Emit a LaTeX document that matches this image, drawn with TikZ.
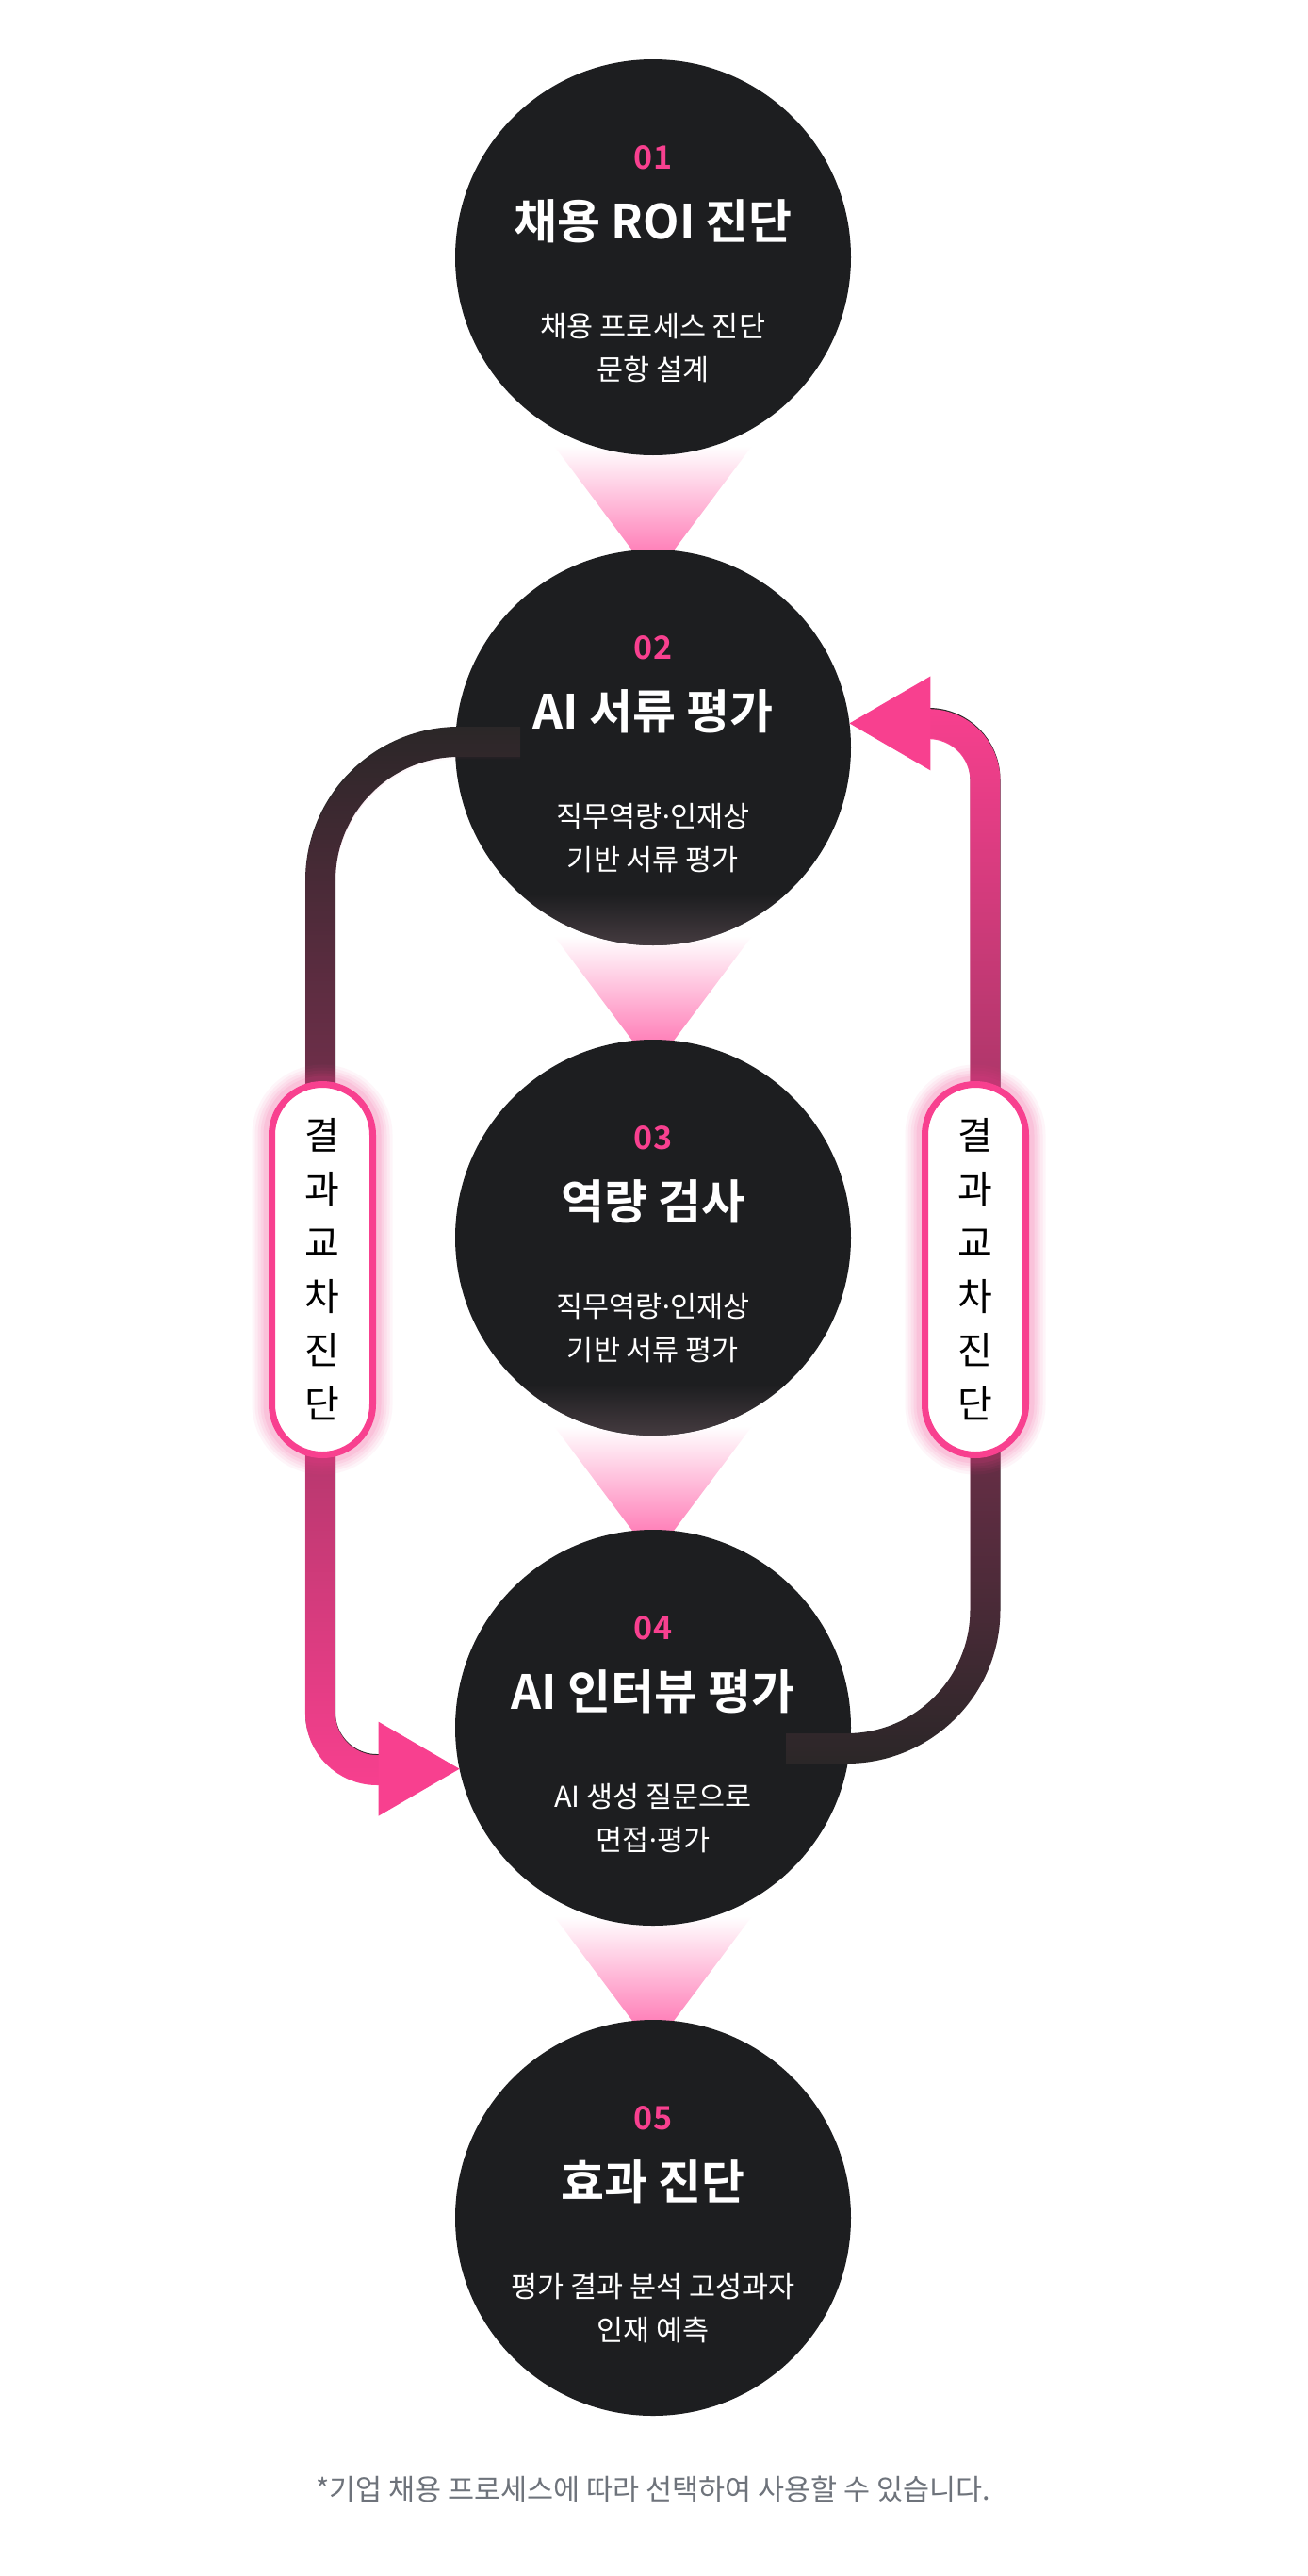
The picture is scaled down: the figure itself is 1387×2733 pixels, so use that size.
\documentclass[tikz,border=0pt]{standalone}
\usepackage{fontspec}
\setmainfont{Noto Sans CJK KR}[BoldFont={Noto Sans CJK KR Bold}]
\newfontfamily\dotfont{Noto Sans}
\usepackage{xcolor}
\definecolor{cPink}{HTML}{F8408F}
\definecolor{cFunnel}{HTML}{FF7DB7}
\definecolor{cCircle}{HTML}{1D1E20}
\definecolor{cCircleLow}{HTML}{463C41}
\definecolor{cTrack}{HTML}{2B2728}
\definecolor{cNote}{HTML}{6E737B}
\usepackage{tikz}
\usetikzlibrary{positioning, calc, fadings, backgrounds}

\tikzfading[name=fadeDown, top color=transparent!100, bottom color=transparent!0]
\tikzfading[name=fadeUp, top color=transparent!0, bottom color=transparent!100]
\newcommand{\mdot}{{\dotfont ·}}

\begin{document}
\begin{tikzpicture}[
    x=1pt, y=1pt,
    stage/.style={circle, fill=cCircle, minimum size=420pt, inner sep=0pt, outer sep=0pt},
    numtxt/.style={text=cPink, font=\fontsize{34}{34}\selectfont\bfseries},
    titletxt/.style={text=white, font=\fontsize{50}{50}\selectfont\bfseries},
    subtxt/.style={text=white, align=center, font=\fontsize{30.5}{46}\selectfont},
    funnel/.style={top color=white, bottom color=cFunnel},
    glowband/.style={fill=cCircleLow, path fading=fadeDown},
    track/.style={line width=32pt, color=cTrack},
    trackpink/.style={line width=32pt, color=cPink},
    pill/.style={draw=cPink, line width=7pt, fill=white, rounded corners=53.5pt,
                 minimum width=107pt, minimum height=393pt, inner sep=0pt,
                 align=center, font=\fontsize{40}{57}\selectfont,
                 preaction={draw=cPink, opacity=0.05, line width=42pt},
                 preaction={draw=cPink, opacity=0.06, line width=36pt},
                 preaction={draw=cPink, opacity=0.07, line width=30pt},
                 preaction={draw=cPink, opacity=0.08, line width=24pt},
                 preaction={draw=cPink, opacity=0.10, line width=18pt}},
    note/.style={text=cNote, font=\fontsize{30.5}{30.5}\selectfont},
    node distance=100pt
]
\useasboundingbox (0,0) rectangle (1387,-2733);

% stages
\node[stage] (c1) at (693,-273) {};
\node[stage, below=of c1] (c2) {};
\node[stage, below=of c2] (c3) {};
\node[stage, below=of c3] (c4) {};
\node[stage, below=of c4] (c5) {};

% lighter bottom of stages 2 and 3
\begin{scope}
\clip (c2.center) circle (210pt);
\fill[glowband] ($(c2.south)+(-210,55)$) rectangle ($(c2.south)+(210,0)$);
\end{scope}
\begin{scope}
\clip (c3.center) circle (210pt);
\fill[glowband] ($(c3.south)+(-210,55)$) rectangle ($(c3.south)+(210,0)$);
\end{scope}

% funnels between the stages
\begin{scope}[on background layer]
\fill[white] (0,0) rectangle (1387,-2733);
\shade[funnel] ($(c1.center)+(-105,-200)$) -- ($(c1.center)+(105,-200)$) -- ($(c2.center)+(19,205)$) -- ($(c2.center)+(-19,205)$) -- cycle;
\shade[funnel] ($(c2.center)+(-105,-200)$) -- ($(c2.center)+(105,-200)$) -- ($(c3.center)+(19,205)$) -- ($(c3.center)+(-19,205)$) -- cycle;
\shade[funnel] ($(c3.center)+(-105,-200)$) -- ($(c3.center)+(105,-200)$) -- ($(c4.center)+(19,205)$) -- ($(c4.center)+(-19,205)$) -- cycle;
\shade[funnel] ($(c4.center)+(-105,-200)$) -- ($(c4.center)+(105,-200)$) -- ($(c5.center)+(19,205)$) -- ($(c5.center)+(-19,205)$) -- cycle;
\end{scope}

% stage texts
\node[numtxt] (n1) at ([yshift=106pt]c1.center) {01};
\node[titletxt] (t1) at ([yshift=38pt]c1.center) {채용 ROI 진단};
\node[subtxt] (s1) at ([yshift=-96pt]c1.center) {채용 프로세스 진단\\문항 설계};

\node[numtxt] (n2) at ([yshift=106pt]c2.center) {02};
\node[titletxt] (t2) at ([yshift=38pt]c2.center) {AI 서류 평가};
\node[subtxt] (s2) at ([yshift=-96pt]c2.center) {직무역량\mdot 인재상\\기반 서류 평가};

\node[numtxt] (n3) at ([yshift=106pt]c3.center) {03};
\node[titletxt] (t3) at ([yshift=38pt]c3.center) {역량 검사};
\node[subtxt] (s3) at ([yshift=-96pt]c3.center) {직무역량\mdot 인재상\\기반 서류 평가};

\node[numtxt] (n4) at ([yshift=106pt]c4.center) {04};
\node[titletxt] (t4) at ([yshift=38pt]c4.center) {AI 인터뷰 평가};
\node[subtxt] (s4) at ([yshift=-96pt]c4.center) {AI 생성 질문으로\\면접\mdot 평가};

\node[numtxt] (n5) at ([yshift=106pt]c5.center) {05};
\node[titletxt] (t5) at ([yshift=38pt]c5.center) {효과 진단};
\node[subtxt] (s5) at ([yshift=-96pt]c5.center) {평가 결과 분석 고성과자\\인재 예측};

% feedback loops
\coordinate (ltip) at (c4.192);
\coordinate (rtip) at (c2.7);

\draw[track] ($(c2.center)+(-141,6)$) -- ++(-65,0) arc[start angle=90, end angle=180, radius=147]
    -- ($(c4.center)+(-353,16)$) arc[start angle=180, end angle=270, radius=60] -- ++(2,0);
\draw[trackpink, path fading=fadeDown] ($(c2.center)+(-141,6)$) -- ++(-65,0) arc[start angle=90, end angle=180, radius=147]
    -- ($(c4.center)+(-353,16)$) arc[start angle=180, end angle=270, radius=60] -- ++(2,0);
\fill[cPink] (ltip) -- ($(ltip)+(-86,50)$) -- ($(ltip)+(-86,-50)$) -- cycle;

\draw[track] ($(c4.center)+(141,-22)$) -- ++(64.5,0) arc[start angle=270, end angle=360, radius=147]
    -- ($(c2.center)+(352.5,-34)$) arc[start angle=0, end angle=90, radius=60] -- ++(-2,0);
\draw[trackpink, path fading=fadeUp] ($(c4.center)+(141,-22)$) -- ++(64.5,0) arc[start angle=270, end angle=360, radius=147]
    -- ($(c2.center)+(352.5,-34)$) arc[start angle=0, end angle=90, radius=60] -- ++(-2,0);
\fill[cPink] (rtip) -- ($(rtip)+(86,50)$) -- ($(rtip)+(86,-50)$) -- cycle;

\node[pill] (p1) at ($(c3.center)+(-351,-34)$) {결\\과\\교\\차\\진\\단};
\node[pill] (p2) at ($(c3.center)+(342,-34)$) {결\\과\\교\\차\\진\\단};

\node[note] (note) at ($(c5.center)+(0,-288)$) {*기업 채용 프로세스에 따라 선택하여 사용할 수 있습니다.};
\end{tikzpicture}
\end{document}
